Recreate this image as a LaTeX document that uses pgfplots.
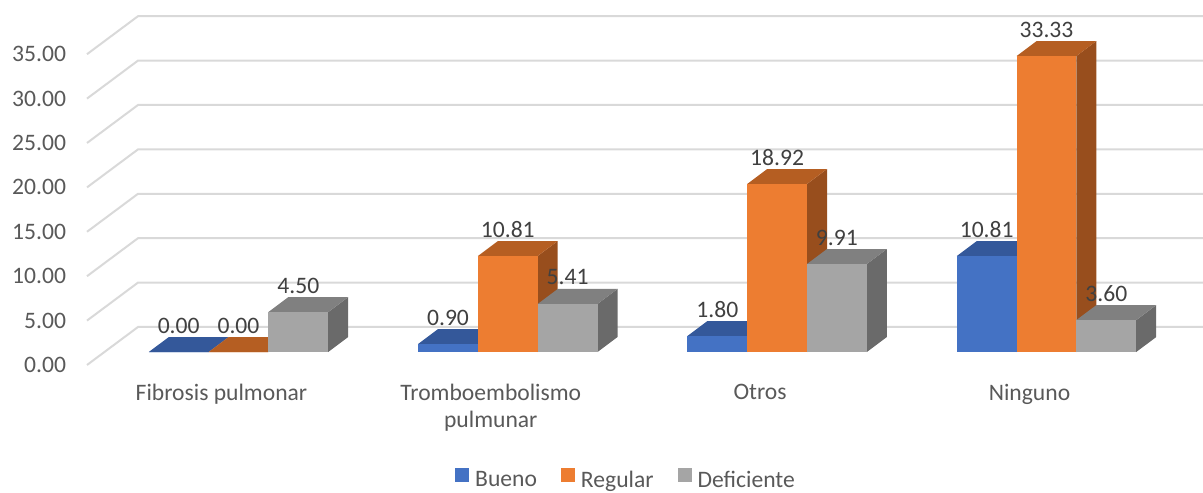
\documentclass[border=0pt]{standalone}
\usepackage{pgfplots}
\pgfplotsset{compat=1.18}
\usepackage{fontspec}
\setmainfont{Carlito}
\definecolor{bfront}{HTML}{4472C4}
\definecolor{btop}{HTML}{34589A}
\definecolor{bside}{HTML}{2C4C85}
\definecolor{ofront}{HTML}{ED7D31}
\definecolor{otop}{HTML}{B55E22}
\definecolor{oside}{HTML}{984E1D}
\definecolor{gfront}{HTML}{A5A5A5}
\definecolor{gtop}{HTML}{808080}
\definecolor{gside}{HTML}{6A6A6A}
\definecolor{gridc}{HTML}{D9D9D9}
\definecolor{tickc}{HTML}{595959}
\definecolor{lblc}{HTML}{404040}
\newcommand\fnt{\fontsize{11.8}{13.6}\selectfont}
% #1 front centre x (px), #2 value, #3 front, #4 top, #5 side colour
\newcommand\bard[5]{%
  \pgfmathsetmacro\xa{#1-29.9}%
  \pgfmathsetmacro\xb{#1+29.9}%
  \pgfmathsetmacro\xc{#1-9.9}%
  \pgfmathsetmacro\xd{#1+49.9}%
  \pgfmathsetmacro\yb{1.462+#2}%
  \pgfmathsetmacro\yd{3.149+#2}%
  \edef\doplot{%
    \noexpand\addplot[fill=#5,draw=none,forget plot] coordinates {(\xb,1.462) (\xd,3.149) (\xd,\yd) (\xb,\yb)};
    \noexpand\addplot[fill=#4,draw=none,forget plot] coordinates {(\xa,\yb) (\xb,\yb) (\xd,\yd) (\xc,\yd)};
    \noexpand\addplot[fill=#3,draw=none,forget plot] coordinates {(\xa,1.462) (\xb,1.462) (\xb,\yb) (\xa,\yb)};
  }\doplot
}
\newcommand\gline[2]{%
  \addplot[gridc,line width=1pt,forget plot] coordinates {(87,#1) (138,#2) (1203,#2)};
}
\begin{document}
\begin{tikzpicture}
\begin{axis}[
  scale only axis,
  x=0.5pt, y=4.44pt,
  xmin=0, xmax=1203, ymin=-14.302, ymax=41.104,
  clip=false,
  axis line style={draw=none},
  tick style={draw=none},
  major tick length=0pt,
  ytick={0,5,10,15,20,25,30,35},
  yticklabels={0.00,5.00,10.00,15.00,20.00,25.00,30.00,35.00},
  yticklabel style={anchor=east, inner sep=0pt, xshift=33.2pt, font=\fnt, text=tickc},
  xtick={221.5,490.8,760.1,1029.5},
  xticklabels={Fibrosis pulmonar,{Tromboembolismo\\pulmunar},Otros,Ninguno},
  xticklabel style={anchor=north, inner sep=0pt, yshift=54.3pt, font=\fnt, text=tickc, align=center},
  legend columns=3,
  legend style={at={(axis cs:625,-12.85)}, anchor=center, draw=none, fill=none,
    inner sep=0pt, font=\fnt, text=tickc,
    nodes={inner sep=0pt},
    /tikz/every odd column/.append style={column sep=3pt},
    /tikz/every even column/.append style={column sep=12pt}},
  legend image code/.code={\fill[#1] (0pt,-0.5pt) rectangle (7pt,6.5pt);},
]
% gridlines (left wall diagonals + back wall)
\gline{0}{4.279}
\gline{5}{9.279}
\gline{10}{14.279}
\gline{15}{19.279}
\gline{20}{24.279}
\gline{25}{29.279}
\gline{30}{34.279}
\gline{35}{39.279}
% Fibrosis pulmonar
\bard{178.7}{0.00}{bfront}{btop}{bside}
\bard{238.5}{0.00}{ofront}{otop}{oside}
\bard{298.3}{4.50}{gfront}{gtop}{gside}
% Tromboembolismo pulmunar
\bard{448.0}{0.90}{bfront}{btop}{bside}
\bard{507.8}{10.81}{ofront}{otop}{oside}
\bard{567.6}{5.41}{gfront}{gtop}{gside}
% Otros
\bard{717.3}{1.80}{bfront}{btop}{bside}
\bard{777.1}{18.92}{ofront}{otop}{oside}
\bard{836.9}{9.91}{gfront}{gtop}{gside}
% Ninguno
\bard{986.7}{10.81}{bfront}{btop}{bside}
\bard{1046.5}{33.33}{ofront}{otop}{oside}
\bard{1106.3}{3.60}{gfront}{gtop}{gside}
% data labels
\addplot[draw=none, mark=none, forget plot, nodes near coords, point meta=explicit symbolic,
  every node near coord/.append style={anchor=base, inner sep=0pt, font=\fnt, text=lblc}]
  coordinates {
  (178.7,3.6) [0.00] (238.5,3.6) [0.00] (298.3,8.1) [4.50]
  (448.0,4.5) [0.90] (507.8,14.41) [10.81] (567.6,9.01) [5.41]
  (717.3,5.4) [1.80] (777.1,22.52) [18.92] (836.9,13.51) [9.91]
  (986.7,14.41) [10.81] (1046.5,36.93) [33.33] (1106.3,7.2) [3.60]
  };
\addlegendimage{fill=bfront, draw=none}
\addlegendentry{Bueno}
\addlegendimage{fill=ofront, draw=none}
\addlegendentry{Regular}
\addlegendimage{fill=gfront, draw=none}
\addlegendentry{Deficiente}
\end{axis}
\pgfresetboundingbox
\useasboundingbox (0,0) rectangle (601.5pt,246pt);
\end{tikzpicture}
\end{document}
